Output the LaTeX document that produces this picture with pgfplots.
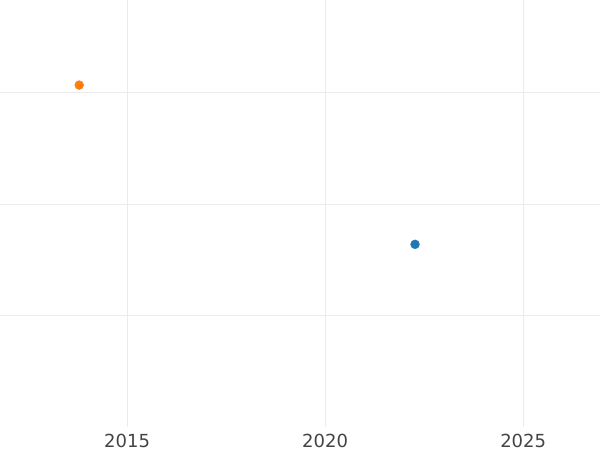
\documentclass[border=0pt]{standalone}
\usepackage{pgfplots}
\pgfplotsset{compat=1.18}
\usepackage{fontspec}
\setmainfont{DejaVu Sans}
\definecolor{gridc}{HTML}{EBEBEB}
\definecolor{lab}{HTML}{444444}
\definecolor{c1}{HTML}{1F77B4}
\definecolor{c2}{HTML}{FF7F0E}
\begin{document}
\begin{tikzpicture}
\useasboundingbox (0,-17.25pt) rectangle (450pt,320.25pt);
\begin{axis}[
  at={(0,0)}, anchor=south west,
  scale only axis, width=450pt, height=320.25pt,
  xmin=2011.79, xmax=2026.94,
  ymin=0, ymax=3.834,
  axis line style={draw=none},
  xtick={2015,2020,2025},
  ytick={1,2,3},
  yticklabels={},
  major tick length=0pt,
  grid=major,
  major grid style={gridc, line width=0.8pt},
  xticklabel style={anchor=base, yshift=-15pt, font=\fontsize{13.5pt}{15pt}\selectfont, text=lab},
  /pgf/number format/assume math mode=true,
  xticklabel={\pgfmathprintnumber[1000 sep={}]{\tick}},
  clip=false,
]
\addplot[only marks, mark=*, mark size=3.3pt, color=c1, mark options={draw=c1, fill=c1}] coordinates {(2022.27,1.64)};
\addplot[only marks, mark=*, mark size=3.3pt, color=c2, mark options={draw=c2, fill=c2}] coordinates {(2013.79,3.07)};
\end{axis}
\end{tikzpicture}
\end{document}
